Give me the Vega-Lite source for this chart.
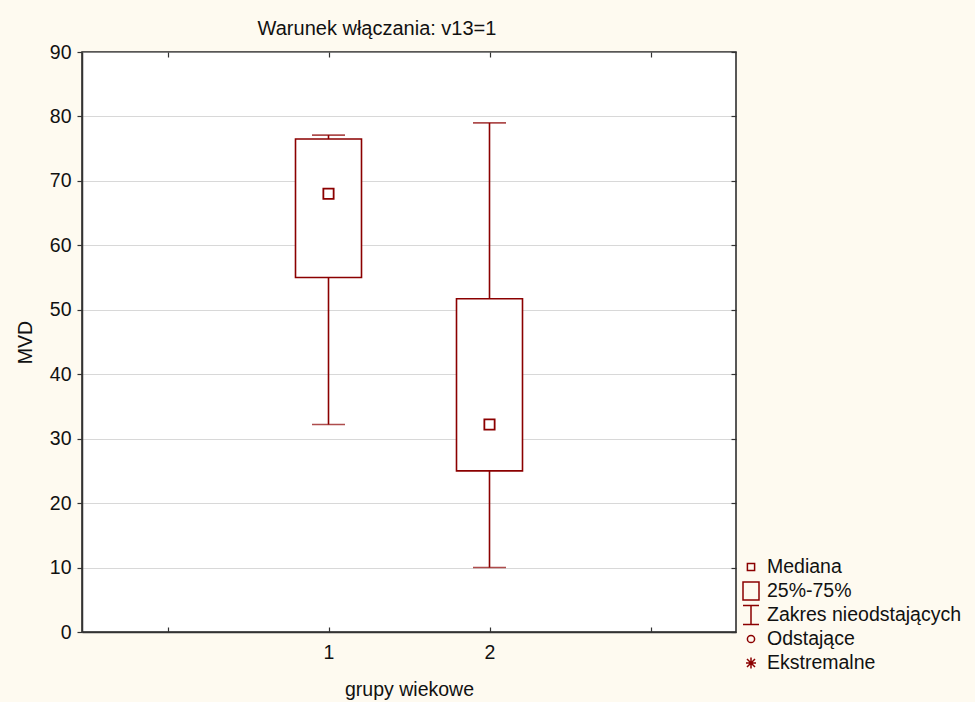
{
  "$schema": "https://vega.github.io/schema/vega-lite/v6.json",
  "width": 654,
  "height": 580,
  "autosize": {"type": "none"},
  "padding": {"left": 82, "top": 52, "right": 239, "bottom": 70},
  "background": "#fefaf0",
  "title": {
    "text": "Warunek włączania: v13=1",
    "font": "Liberation Sans",
    "fontSize": 20,
    "fontWeight": "normal",
    "color": "#111111",
    "dx": -32,
    "offset": 3
  },
  "config": {
    "font": "Liberation Sans",
    "view": {"fill": "white", "stroke": "#222222", "strokeWidth": 1.5},
    "axis": {
      "labelFont": "Liberation Sans",
      "labelFontSize": 19.5,
      "labelColor": "#111111",
      "titleFont": "Liberation Sans",
      "titleFontSize": 19.5,
      "titleFontWeight": "normal",
      "titleColor": "#111111",
      "domainColor": "#333333",
      "domainWidth": 1.5,
      "tickColor": "#333333",
      "tickWidth": 1.2
    },
    "legend": {
      "orient": "none",
      "legendX": 658,
      "legendY": 504,
      "padding": 0,
      "labelFont": "Liberation Sans",
      "labelFontSize": 19.5,
      "labelColor": "#111111",
      "labelOffset": 5,
      "labelLimit": 400,
      "symbolSize": 400,
      "symbolStrokeWidth": 1.5,
      "symbolStrokeColor": "#8b0000",
      "symbolFillColor": "transparent",
      "gridAlign": "all",
      "rowPadding": -2
    }
  },
  "datasets": {
    "boxes": [
      {"grupa": 1, "min": 32.2, "q1": 55.0, "median": 68.0, "q3": 76.5, "max": 77.1, "lbl": "Mediana"},
      {"grupa": 2, "min": 10.0, "q1": 25.0, "median": 32.2, "q3": 51.7, "max": 79.0, "lbl": "Mediana"}
    ]
  },
  "data": {"name": "boxes"},
  "layer": [
    {
      "mark": {"type": "rule", "color": "#8b0000", "strokeWidth": 1.6},
      "encoding": {
        "x": {
          "field": "grupa",
          "type": "quantitative",
          "scale": {"domain": [-0.5, 3.5], "nice": false, "zero": false},
          "axis": {
            "orient": "bottom",
            "title": "grupy wiekowe",
            "values": [0, 1, 2, 3],
            "labelExpr": "datum.value == 1 || datum.value == 2 ? datum.label : ''",
            "grid": false,
            "tickSize": -5,
            "labelPadding": 16,
            "titlePadding": 19
          }
        },
        "y": {
          "field": "min",
          "type": "quantitative",
          "scale": {"domain": [0, 90], "nice": false, "zero": true},
          "axis": {
            "orient": "left",
            "title": "MVD",
            "values": [0, 10, 20, 30, 40, 50, 60, 70, 80, 90],
            "grid": true,
            "gridColor": "#b0b0b0",
            "gridDash": [1, 1],
            "gridWidth": 1,
            "tickSize": 5,
            "labelPadding": 6,
            "titlePadding": 14
          }
        },
        "y2": {"field": "q1"}
      }
    },
    {
      "mark": {"type": "rule", "color": "#8b0000", "strokeWidth": 1.6},
      "encoding": {
        "x": {
          "field": "grupa",
          "type": "quantitative",
          "axis": {
            "orient": "top",
            "title": null,
            "values": [0, 1, 2, 3],
            "labels": false,
            "domain": false,
            "grid": false,
            "tickSize": -5
          }
        },
        "y": {
          "field": "q3",
          "type": "quantitative",
          "axis": {
            "orient": "right",
            "title": null,
            "values": [0, 10, 20, 30, 40, 50, 60, 70, 80, 90],
            "labels": false,
            "domain": false,
            "grid": false,
            "tickSize": -5
          }
        },
        "y2": {"field": "max"}
      }
    },
    {
      "mark": {"type": "tick", "orient": "horizontal", "color": "#8b0000", "size": 33, "thickness": 1.6},
      "encoding": {
        "x": {"field": "grupa", "type": "quantitative", "axis": null},
        "y": {"field": "min", "type": "quantitative", "axis": null}
      }
    },
    {
      "mark": {"type": "tick", "orient": "horizontal", "color": "#8b0000", "size": 33, "thickness": 1.6},
      "encoding": {
        "x": {"field": "grupa", "type": "quantitative", "axis": null},
        "y": {"field": "max", "type": "quantitative", "axis": null}
      }
    },
    {
      "mark": {"type": "bar", "size": 66, "fill": "white", "stroke": "#8b0000", "strokeWidth": 1.6},
      "encoding": {
        "x": {"field": "grupa", "type": "quantitative", "axis": null},
        "y": {"field": "q1", "type": "quantitative", "axis": null},
        "y2": {"field": "q3"}
      }
    },
    {
      "mark": {"type": "point", "filled": false, "size": 816, "color": "#8b0000", "strokeWidth": 1.8, "opacity": 1},
      "encoding": {
        "x": {"field": "grupa", "type": "quantitative", "axis": null},
        "y": {"field": "median", "type": "quantitative", "axis": null},
        "shape": {
          "field": "lbl",
          "type": "nominal",
          "scale": {
            "domain": ["Mediana", "25%-75%", "Zakres nieodstających", "Odstające", "Ekstremalne"],
            "range": [
              "M-0.36,-0.36H0.36V0.36H-0.36Z",
              "M-0.8,-0.9H0.8V0.9H-0.8Z",
              "M-0.8,-0.95H0.8M0,-0.95V0.95M-0.8,0.95H0.8",
              "M0.36,0A0.36,0.36 0 1,1 -0.36,0A0.36,0.36 0 1,1 0.36,0Z",
              "M-0.5,0H0.5M0,-0.55V0.55M-0.4,-0.4L0.4,0.4M-0.4,0.4L0.4,-0.4"
            ]
          },
          "legend": {
            "title": null,
            "encode": {
              "symbols": {
                "update": {
                  "size": {"value": 400},
                  "stroke": {"value": "#8b0000"},
                  "strokeWidth": {"value": 1.6},
                  "fill": {"value": "transparent"},
                  "opacity": {"value": 1}
                }
              }
            }
          }
        }
      }
    }
  ]
}
